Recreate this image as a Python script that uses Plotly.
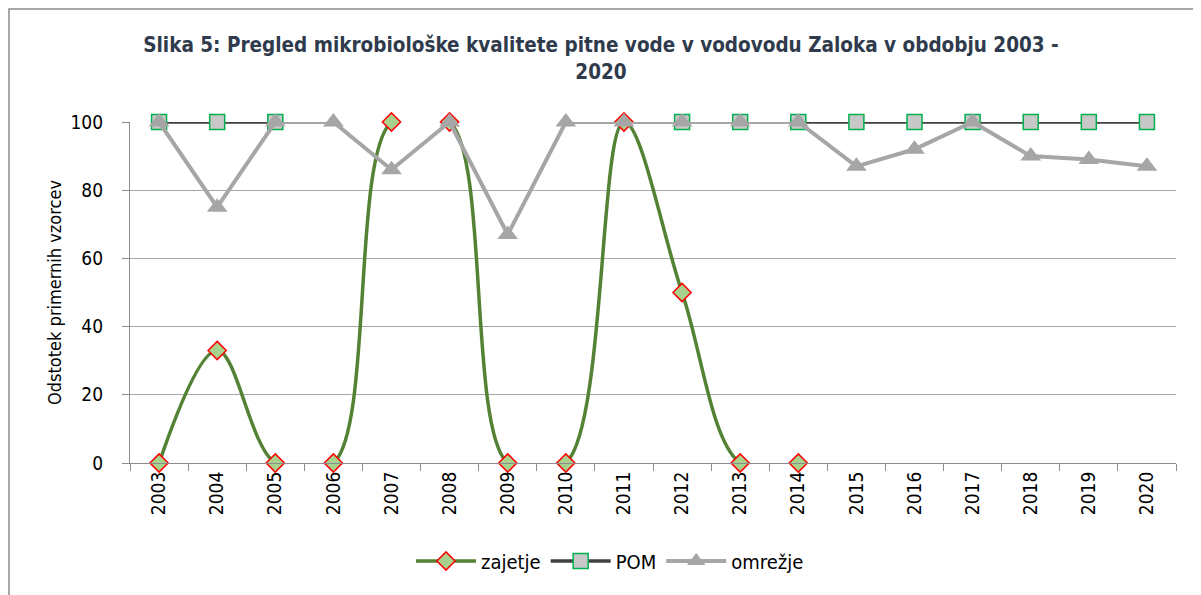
import plotly.graph_objects as go

years = ["2003", "2004", "2005", "2006", "2007", "2008", "2009", "2010", "2011",
         "2012", "2013", "2014", "2015", "2016", "2017", "2018", "2019", "2020"]
zajetje = [0, 33, 0, 0, 100, 100, 0, 0, 100, 50, 0, 0,
           None, None, None, None, None, None]
pom = [100, 100, 100, None, None, None, None, None, None,
       100, 100, 100, 100, 100, 100, 100, 100, 100]
omrezje = [100, 75, 100, 100, 86, 100, 67, 100, 100, 100, 100, 100,
           87, 92, 100, 90, 89, 87]
y_ticks = [0, 20, 40, 60, 80, 100]

FONT = "Liberation Sans Narrow, Arial Narrow, DejaVu Sans Condensed, sans-serif"

# the page body has an 8px margin, so the figure is sized to fit the window
OFF = 8
W, H = 1201 - OFF, 595 - OFF
L, R, T, B = 130 - OFF, 25, 122 - OFF, 132
pw, ph = W - L - R, H - T - B

fig = go.Figure()
fig.add_trace(go.Scatter(
    x=years, y=zajetje, name="zajetje", mode="lines+markers",
    line=dict(color="#548235", width=3.5, shape="spline", smoothing=1.0),
    marker=dict(symbol="diamond", size=14, color="#A9D18E",
                line=dict(color="#FF0000", width=1.5)),
    cliponaxis=False, connectgaps=False))
fig.add_trace(go.Scatter(
    x=years, y=pom, name="POM", mode="lines+markers",
    line=dict(color="#404040", width=3.5),
    marker=dict(symbol="square", size=15, color="#C8C8C8",
                line=dict(color="#00B050", width=1.5)),
    cliponaxis=False, connectgaps=False))
fig.add_trace(go.Scatter(
    x=years, y=omrezje, name="omrežje", mode="lines+markers",
    line=dict(color="#A6A6A6", width=4),
    marker=dict(symbol="triangle-up", size=18, color="#A6A6A6",
                line=dict(width=0)),
    cliponaxis=False))

# outer border (left and top edges visible)
fig.add_shape(type="rect", xref="paper", yref="paper",
              x0=(1 - L) / pw, x1=(W + 20 - L) / pw,
              y0=-(H + 20 - T - ph) / ph, y1=1 + (T - 1) / ph,
              line=dict(color="#8C8C8C", width=1.5), layer="below")

fig.update_layout(
    width=W, height=H,
    margin=dict(l=L, r=R, t=T, b=B, autoexpand=False),
    paper_bgcolor="white", plot_bgcolor="white",
    font=dict(family=FONT, size=19, color="#000000"),
    title=dict(
        text="Slika 5: Pregled mikrobiološke kvalitete pitne vode v vodovodu Zaloka v obdobju 2003 -<br>2020",
        x=(601 - OFF) / W, xref="container", xanchor="center",
        y=1 - (52 - OFF) / H, yref="container", yanchor="middle",
        font=dict(family=FONT, size=20.5, color="#2F3B4C", weight="bold")),
    xaxis=dict(
        type="category", range=[-0.5, 17.5],
        tickson="boundaries", ticks="outside", ticklen=7,
        tickcolor="#8C8C8C", tickwidth=1,
        showline=True, linecolor="#8C8C8C", linewidth=1.2,
        showgrid=False, tickangle=-90, tickfont=dict(size=19),
        fixedrange=True),
    yaxis=dict(
        range=[0, 100], tickvals=y_ticks, ticks="outside", ticklen=7,
        tickcolor="#8C8C8C", showline=True, linecolor="#8C8C8C", linewidth=1.2,
        showgrid=True, gridcolor="#A6A6A6", gridwidth=1.2,
        zeroline=False, tickfont=dict(size=19), ticklabelstandoff=15,
        title=dict(text="Odstotek primernih vzorcev", font=dict(size=18), standoff=4)),
    legend=dict(orientation="h", x=(610 - OFF) / W, xanchor="center", xref="container",
                y=(H - B - (561 - OFF)) / ph, yref="paper", yanchor="middle",
                font=dict(size=20), itemwidth=60, bgcolor="rgba(0,0,0,0)"),
    showlegend=True,
)

fig.write_html("out.html")
